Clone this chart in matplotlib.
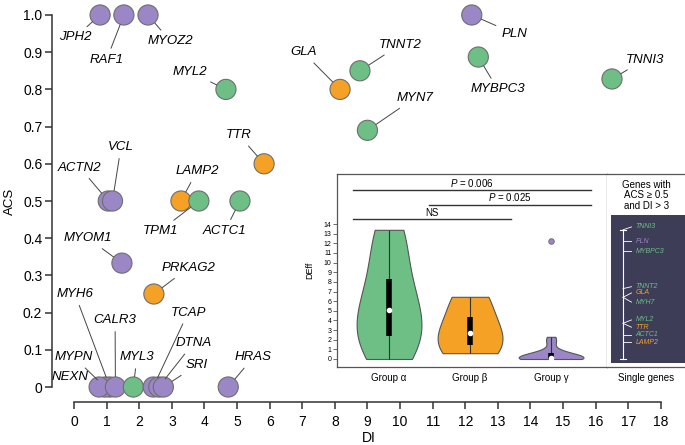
import numpy as np
import matplotlib.pyplot as plt
from matplotlib.patches import Rectangle

plt.rcParams['font.family'] = ['Liberation Sans', 'DejaVu Sans']
plt.rcParams['mathtext.fontset'] = 'custom'
plt.rcParams['mathtext.it'] = 'Liberation Sans:italic'
plt.rcParams['mathtext.rm'] = 'Liberation Sans'

GREEN = '#6dbf85'
ORANGE = '#f5a125'
PURPLE = '#9b87c6'
EDGE = '#6e6e6e'
col = {'a': GREEN, 'b': ORANGE, 'g': PURPLE}

# main scatter: gene, DI, ACS, group, label position
genes = ['JPH2', 'RAF1', 'MYOZ2', 'PLN', 'MYL2', 'GLA', 'TNNT2', 'MYBPC3', 'TNNI3',
         'MYN7', 'TTR', 'ACTN2', 'VCL', 'LAMP2', 'TPM1', 'ACTC1', 'MYOM1', 'PRKAG2',
         'MYH6', 'MYPN', 'NEXN', 'CALR3', 'MYL3', 'TCAP', 'DTNA', 'SRI', 'HRAS']
di = [0.8, 1.53, 2.27, 12.2, 4.66, 8.16, 8.77, 12.4, 16.5,
      9.0, 5.83, 1.05, 1.18, 3.28, 3.83, 5.09, 1.47, 2.45,
      1.1, 0.95, 0.77, 1.27, 1.82, 2.43, 2.6, 2.74, 4.73]
acs = [1.0, 1.0, 1.0, 1.0, 0.8, 0.8, 0.85, 0.887, 0.828,
       0.69, 0.6, 0.5, 0.5, 0.5, 0.5, 0.5, 0.333, 0.25,
       0, 0, 0, 0, 0, 0, 0, 0, 0]
group = ['g', 'g', 'g', 'g', 'a', 'b', 'a', 'a', 'a',
         'a', 'b', 'g', 'g', 'b', 'a', 'a', 'g', 'b',
         'g', 'g', 'g', 'g', 'a', 'g', 'g', 'g', 'g']
lab_x = [0.03, 1.0, 2.95, 13.5, 3.56, 7.03, 10.0, 13.0, 17.5,
         10.45, 5.06, 0.18, 1.44, 3.77, 2.64, 4.63, 0.43, 3.5,
         0.03, 0.0, -0.12, 1.26, 1.93, 3.5, 3.66, 3.77, 5.5]
lab_y = [0.94, 0.88, 0.93, 0.95, 0.847, 0.90, 0.92, 0.80, 0.88,
         0.777, 0.677, 0.59, 0.645, 0.58, 0.42, 0.42, 0.40, 0.32,
         0.25, 0.08, 0.027, 0.18, 0.08, 0.2, 0.118, 0.059, 0.08]

# DEff values per group
deff_alpha = [0, 2.0, 2.5, 3.7, 6.4, 7.3, 11.2, 13.4]
deff_beta = [0.6, 1.75, 3.7, 6.45]
deff_gamma = [0, 0, 0, 0, 0, 0.1, 0.1, 0.2, 0.3, 0.5, 0.6, 0.8, 1.7, 2.3]
deff_outlier = 12.2
group_labels = ['Group α', 'Group β', 'Group γ']

# single genes panel
single_genes = ['TNNI3', 'PLN', 'MYBPC3', 'TNNT2', 'GLA', 'MYH7', 'MYL2', 'TTR', 'ACTC1', 'LAMP2']
single_deff = [13.4, 12.2, 11.2, 7.3, 6.4, 6.4, 3.7, 3.7, 2.5, 1.75]
single_group = ['a', 'g', 'a', 'a', 'b', 'a', 'a', 'b', 'a', 'b']
single_shift = [0.3, 0, 0, 0.2, 0.45, -0.5, 0.35, -0.4, 0, 0]

W, H = 685, 445
fig = plt.figure(figsize=(W / 100, H / 100), dpi=100)


def px_axes(x0, y0, x1, y1):
    return fig.add_axes([x0 / W, 1 - y1 / H, (x1 - x0) / W, (y1 - y0) / H])


ax = px_axes(52, 0, 685, 402)
ax.set_xlim(-0.675, 18.74)
ax.set_ylim(-0.0403, 1.0403)
for s in ['top', 'right']:
    ax.spines[s].set_visible(False)
ax.spines['left'].set_bounds(0, 1)
ax.spines['bottom'].set_bounds(0, 18)
for s in ['left', 'bottom']:
    ax.spines[s].set_color('#333333')
    ax.spines[s].set_linewidth(1.1)
ax.set_xticks(range(19))
ax.set_yticks(np.arange(0, 1.01, 0.1))
ax.set_yticklabels(['0'] + ['%.1f' % v for v in np.arange(0.1, 1.01, 0.1)])
ax.tick_params(axis='both', labelsize=10, length=5, width=1.1, color='#333333')
ax.tick_params(axis='y', pad=2)
ax.tick_params(axis='x', pad=4)
ax.set_xlabel('DI', fontsize=10, labelpad=2)
ax.set_ylabel('ACS', fontsize=9.5, labelpad=5)

ax.scatter(di, acs, s=210, c=[col[g] for g in group], edgecolors=EDGE,
           linewidths=0.8, zorder=3, clip_on=False)
for name, x, y, tx, ty in zip(genes, di, acs, lab_x, lab_y):
    arrow = dict(arrowstyle='-', color='#444444', lw=0.7, shrinkA=2, shrinkB=7.5)
    if name == 'NEXN':
        arrow = None
    ax.annotate(name, xy=(x, y), xytext=(tx, ty), ha='center', va='center',
                style='italic', fontsize=9.5, zorder=4, arrowprops=arrow)

# violin inset
axv = px_axes(337, 174, 607, 367)
axv.set_facecolor('white')
axv.set_xlim(0.358, 3.69)
axv.set_ylim(-0.83, 19.19)
for s in axv.spines.values():
    s.set_color('#555555')
    s.set_linewidth(0.9)
axv.set_yticks(range(15))
axv.tick_params(axis='y', labelsize=5, length=3, pad=1, width=0.6, color='#555555')
axv.set_xticks([1, 2, 3])
axv.set_xticklabels(group_labels)
axv.tick_params(axis='x', labelsize=7, length=0, pad=4)
axv.set_ylabel('DEff', fontsize=6.5, labelpad=7)

for pos, data, c in zip([1, 2, 3], [deff_alpha, deff_beta, deff_gamma], [GREEN, ORANGE, PURPLE]):
    parts = axv.violinplot([data], positions=[pos], widths=0.8, showextrema=False)
    for b in parts['bodies']:
        b.set_facecolor(c)
        b.set_edgecolor('#555555')
        b.set_linewidth(0.8)
        b.set_alpha(1)
    q1, med, q3 = np.percentile(data, [25, 50, 75])
    axv.vlines(pos, min(data), max(data), color='#333333', lw=0.8)
    axv.vlines(pos, q1, q3, color='black', lw=4)
    axv.plot(pos, med, 'o', color='white', ms=3)
axv.plot(3, deff_outlier, 'o', ms=4, mfc=PURPLE, mec='#666666', mew=0.6)

axv.plot([0.556, 3.49], [17.5, 17.5], color='#333333', lw=1)
axv.text(2.02, 17.65, '$P$ = 0.006', ha='center', va='bottom', fontsize=7)
axv.plot([1.49, 3.49], [16.0, 16.0], color='#333333', lw=1)
axv.text(2.49, 16.15, '$P$ = 0.025', ha='center', va='bottom', fontsize=7)
axv.plot([0.556, 2.5], [14.5, 14.5], color='#333333', lw=1)
axv.text(1.53, 14.65, 'NS', ha='center', va='bottom', fontsize=7)

# single genes panel
axs = px_axes(607, 174, 692, 367)
axs.set_facecolor('white')
axs.set_xlim(0, 1)
axs.set_ylim(-0.83, 19.19)
axs.spines['left'].set_visible(False)
for s in ['top', 'bottom', 'right']:
    axs.spines[s].set_color('#555555')
    axs.spines[s].set_linewidth(0.9)
axs.set_yticks([])
axs.set_xticks([0.46])
axs.set_xticklabels(['Single genes'])
axs.tick_params(axis='x', labelsize=7, length=0, pad=4)
axs.add_patch(Rectangle((0.047, -0.41), 1, 15.35, facecolor='#3d3d58', edgecolor='none'))
axs.text(0.46, 17.0, 'Genes with\nACS ≥ 0.5\nand DI > 3', ha='center', va='center',
         fontsize=7, linespacing=1.05)
lx = 0.188
top = max(single_deff)
axs.plot([lx, lx], [0, top], color='white', lw=0.8)
axs.plot([lx - 0.035, lx + 0.035], [top, top], color='white', lw=0.8)
axs.plot([lx - 0.035, lx + 0.035], [0, 0], color='white', lw=0.8)
for name, v, g, dy in zip(single_genes, single_deff, single_group, single_shift):
    axs.plot([lx, lx + 0.1], [v, v + dy], color='white', lw=0.6)
    axs.text(lx + 0.15, v + dy, name, color=col[g], style='italic', fontsize=5,
             ha='left', va='center')

fig.savefig('out.png', dpi=100)
